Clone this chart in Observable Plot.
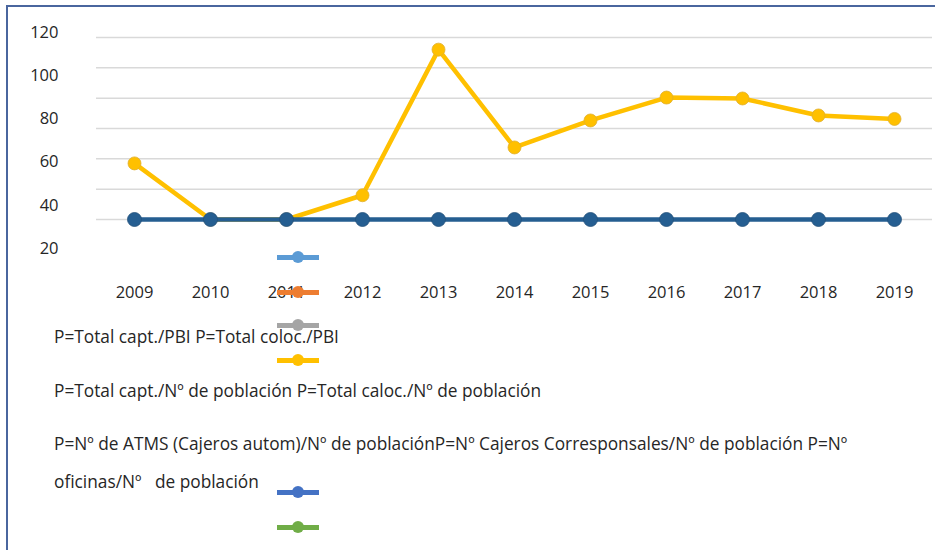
<!DOCTYPE html>
<html>
<head>
<meta charset="utf-8">
<script src="https://cdn.jsdelivr.net/npm/d3@7"></script>
<script src="https://cdn.jsdelivr.net/npm/@observablehq/plot@0.6"></script>
<style>
  html, body { margin: 0; padding: 0; background: #fff; }
  #page { position: relative; width: 935px; height: 550px; overflow: hidden; font-family: "Open Sans", sans-serif; color: #262626; }
  #frame { position: absolute; left: 6px; top: 5px; right: 0; bottom: 0; border-left: 2.5px solid #4a669e; border-top: 2.5px solid #4a669e; }
  .abs { position: absolute; left: 0; top: 0; }
  .lg { position: absolute; font-size: 17.3px; white-space: pre; line-height: 1; transform: translateY(-50%); }
  .sw { position: absolute; width: 42px; height: 14px; transform: translateY(-50%); }
  .sw .ln { position: absolute; left: 0; right: 0; top: 5px; height: 4.5px; }
  .sw .dt { position: absolute; left: 15px; top: 1px; width: 12px; height: 12px; border-radius: 50%; }
</style>
</head>
<body>
<div id="page">
  <div id="frame"></div>
</div>
<script>
// ---- data ----
const years = [2009, 2010, 2011, 2012, 2013, 2014, 2015, 2016, 2017, 2018, 2019];
const captPoblacion = [37, 0, 0, 16, 112, 47.5, 65.3, 80.4, 79.8, 68.6, 66.3];
const oficinasPoblacion = [0, 0, 0, 0, 0, 0, 0, 0, 0, 0, 0];
const gridValues = [0, 20, 40, 60, 80, 100, 120];
const yTickLabels = [20, 40, 60, 80, 100, 120];
const legendLines = [
  "P=Total capt./PBI P=Total coloc./PBI",
  "P=Total capt./Nº de población P=Total caloc./Nº de población",
  "P=Nº de ATMS (Cajeros autom)/Nº de poblaciónP=Nº Cajeros Corresponsales/Nº de población P=Nº",
  "oficinas/Nº   de población"
];
const legendColors = ["#5b9bd5", "#ed7d31", "#a5a5a5", "#ffc000", "#4472c4", "#70ad47"];

const yellow = years.map((y, i) => ({year: y, value: captPoblacion[i]}));
const blue = years.map((y, i) => ({year: y, value: oficinasPoblacion[i]}));

const page = document.getElementById("page");
const axisStyle = {fontFamily: "Open Sans, sans-serif", fontSize: "16.5px", color: "#262626", background: "transparent"};

// main chart
const chart = Plot.plot({
  width: 935,
  height: 310,
  marginTop: 37,
  marginBottom: 91,
  marginLeft: 96,
  marginRight: 3,
  style: axisStyle,
  x: {type: "point", domain: years, padding: 0.5, label: null},
  y: {domain: [0, 120], axis: null},
  marks: [
    Plot.gridY(gridValues, {stroke: "#d9d9d9", strokeOpacity: 1, strokeWidth: 1.5}),
    Plot.axisX({tickSize: 0, tickPadding: 67, label: null, tickFormat: d => String(d), fill: "#262626"}),
    Plot.line(yellow, {x: "year", y: "value", stroke: "#ffc000", strokeWidth: 4.5}),
    Plot.dot(yellow, {x: "year", y: "value", r: 6.5, fill: "#ffc000", stroke: "#e0b030", strokeWidth: 0.8}),
    Plot.line(blue, {x: "year", y: "value", stroke: "#255e91", strokeWidth: 4.5}),
    Plot.dot(blue, {x: "year", y: "value", r: 7, fill: "#255e91", stroke: "#23507a", strokeWidth: 0.8})
  ]
});
chart.classList.add("abs");
page.appendChild(chart);

// y tick labels (misaligned axis as in the original)
const yAxisPlot = Plot.plot({
  width: 100,
  height: 260,
  marginTop: 32,
  marginBottom: 12,
  marginLeft: 58,
  marginRight: 0,
  style: axisStyle,
  y: {domain: [20, 120], label: null},
  marks: [
    Plot.axisY(yTickLabels, {tickSize: 0, tickPadding: 0, label: null, fill: "#262626"})
  ]
});
yAxisPlot.classList.add("abs");
page.appendChild(yAxisPlot);

// legend (as laid out in the original)
const textY = [337, 391, 444, 482];
legendLines.forEach((t, i) => {
  const d = document.createElement("div");
  d.className = "lg";
  d.style.left = "54px";
  d.style.top = textY[i] + "px";
  d.textContent = t;
  page.appendChild(d);
});
const swY = [257, 292, 325, 360, 492, 527];
legendColors.forEach((c, i) => {
  const s = document.createElement("div");
  s.className = "sw";
  s.style.left = "277px";
  s.style.top = swY[i] + "px";
  s.innerHTML = `<div class="ln" style="background:${c}"></div><div class="dt" style="background:${c}"></div>`;
  page.appendChild(s);
});
</script>
</body>
</html>
